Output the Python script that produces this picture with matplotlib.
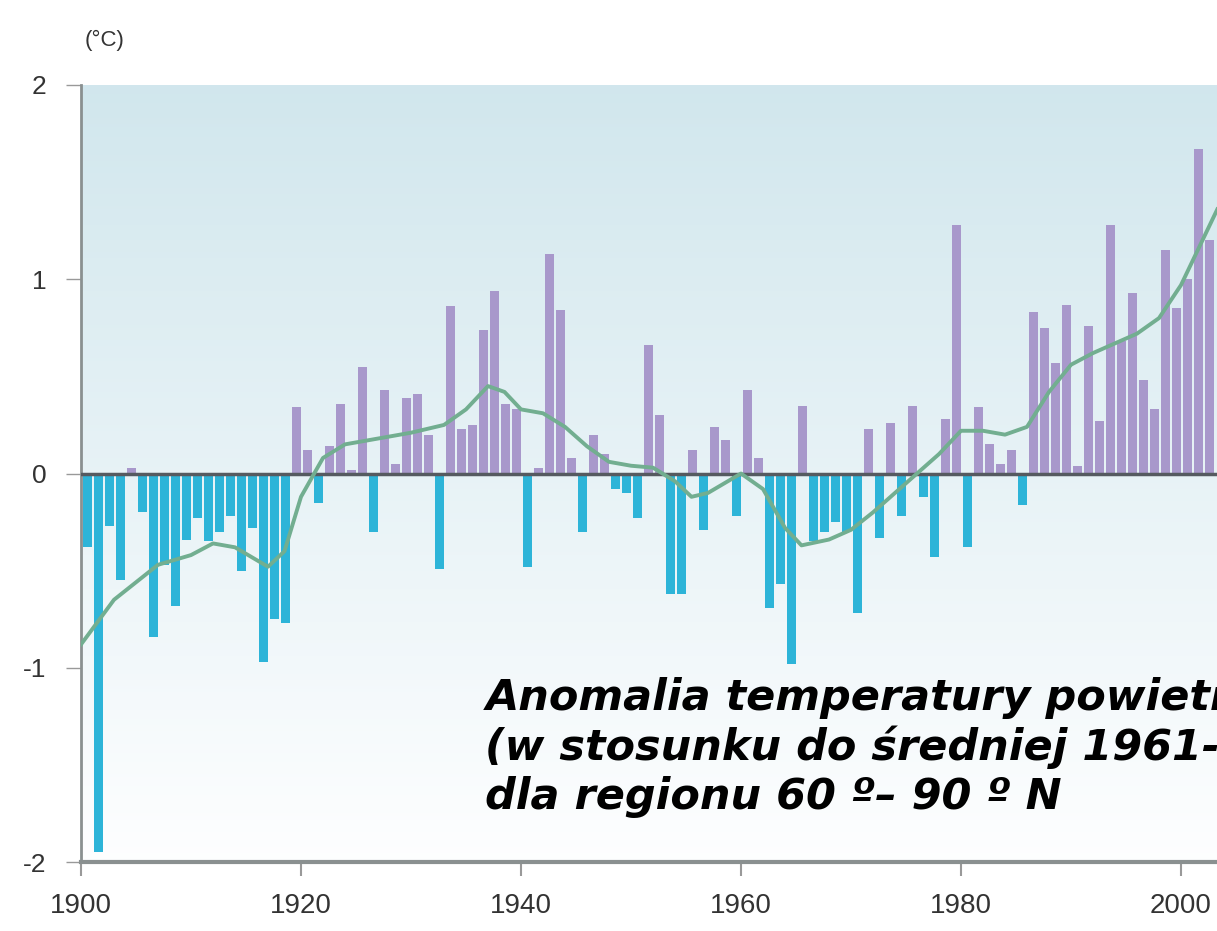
import matplotlib
matplotlib.use("Agg")
import matplotlib.pyplot as plt
import numpy as np

# roczne anomalie temperatury (°C), 60-90 N, wzgledem 1961-1990
years = list(range(1900, 2003))
anomaly = [
    -0.38, -1.95, -0.27, -0.55, 0.03, -0.20, -0.84, -0.47, -0.68, -0.34,
    -0.23, -0.35, -0.30, -0.22, -0.50, -0.28, -0.97, -0.75, -0.77, 0.34,
    0.12, -0.15, 0.14, 0.36, 0.02, 0.55, -0.30, 0.43, 0.05, 0.39,
    0.41, 0.20, -0.49, 0.86, 0.23, 0.25, 0.74, 0.94, 0.36, 0.33,
    -0.48, 0.03, 1.13, 0.84, 0.08, -0.30, 0.20, 0.10, -0.08, -0.10,
    -0.23, 0.66, 0.30, -0.62, -0.62, 0.12, -0.29, 0.24, 0.17, -0.22,
    0.43, 0.08, -0.69, -0.57, -0.98, 0.35, -0.35, -0.30, -0.25, -0.30,
    -0.72, 0.23, -0.33, 0.26, -0.22, 0.35, -0.12, -0.43, 0.28, 1.28,
    -0.38, 0.34, 0.15, 0.05, 0.12, -0.16, 0.83, 0.75, 0.57, 0.87,
    0.04, 0.76, 0.27, 1.28, 0.68, 0.93, 0.48, 0.33, 1.15, 0.85,
    1.00, 1.67, 1.20,
]

# wygladzona krzywa
smooth_years = [1900, 1903, 1907, 1910, 1912, 1914, 1917, 1918.5, 1920, 1922,
                1924, 1927, 1930, 1933, 1935, 1937, 1938.5, 1940, 1942, 1944,
                1946, 1948, 1950, 1952, 1954, 1955.5, 1957, 1960, 1962, 1964,
                1965.5, 1968, 1970, 1972, 1974, 1976, 1978, 1980, 1982, 1984,
                1986, 1988, 1990, 1992, 1994, 1996, 1998, 2000, 2003.3]
smooth_vals = [-0.88, -0.65, -0.47, -0.42, -0.36, -0.38, -0.48, -0.40, -0.12, 0.08,
               0.15, 0.18, 0.21, 0.25, 0.33, 0.45, 0.42, 0.33, 0.31, 0.24,
               0.14, 0.06, 0.04, 0.03, -0.04, -0.12, -0.10, 0.0, -0.08, -0.28,
               -0.37, -0.34, -0.29, -0.20, -0.10, 0.0, 0.10, 0.22, 0.22, 0.20,
               0.24, 0.42, 0.56, 0.62, 0.67, 0.72, 0.80, 0.97, 1.36]

yticks = [-2, -1, 0, 1, 2]
xticks = [1900, 1920, 1940, 1960, 1980, 2000]

W, H = 1217, 931
fig = plt.figure(figsize=(W / 100, H / 100), dpi=100)
ax = fig.add_axes([81 / W, (H - 862) / H, (W - 81) / W, (862 - 85) / H])

x0, x1 = 1900, 1900 + (W - 81) / 11
ax.set_xlim(x0, x1)
ax.set_ylim(-2, 2)

# tlo z gradientem
top = np.array([0.82, 0.905, 0.93])
bot = np.array([0.995, 0.997, 1.0])
t = np.linspace(0, 1, 256)[:, None, None]
grad = top * (1 - t) + bot * t
ax.imshow(grad, extent=[x0, x1, -2, 2], aspect='auto', zorder=0)

colors = ['#a898cb' if v >= 0 else '#2db4d8' for v in anomaly]
ax.bar(np.array(years) + 0.6, anomaly, width=0.75, color=colors, zorder=2)
ax.axhline(0, color='#555a60', lw=2.5, zorder=3)
ax.plot(smooth_years, smooth_vals, color='#72ae90', lw=2.8, zorder=4)

for side in ['top', 'right']:
    ax.spines[side].set_visible(False)
ax.spines['left'].set_color('#8a9090')
ax.spines['left'].set_linewidth(2)
ax.spines['bottom'].set_color('#8a9090')
ax.spines['bottom'].set_linewidth(3)

tick_font = ['Liberation Sans', 'DejaVu Sans']
ax.set_yticks(yticks)
ax.set_yticklabels([str(v) for v in yticks], family=tick_font, fontsize=19, color='#333333')
ax.set_xticks(xticks)
ax.set_xticklabels([str(v) for v in xticks], family=tick_font, fontsize=20, color='#333333')
ax.tick_params(axis='y', length=11, width=1, color='#999999', pad=14)
ax.tick_params(axis='x', length=10, width=1.5, color='#999999', pad=12)

fig.text(85 / W, 1 - 40 / H, '(°C)', family=tick_font, fontsize=16,
         color='#333333', va='center', ha='left')

ax.text(0.356, 0.238, 'Anomalia temperatury powietrza\n(w stosunku do średniej 1961-1990)\n'
        'dla regionu 60 º– 90 º N', transform=ax.transAxes,
        fontsize=31, fontweight='bold', fontstyle='italic', va='top', ha='left',
        linespacing=1.2, zorder=5, clip_on=True)

fig.savefig('out.png', dpi=100)
